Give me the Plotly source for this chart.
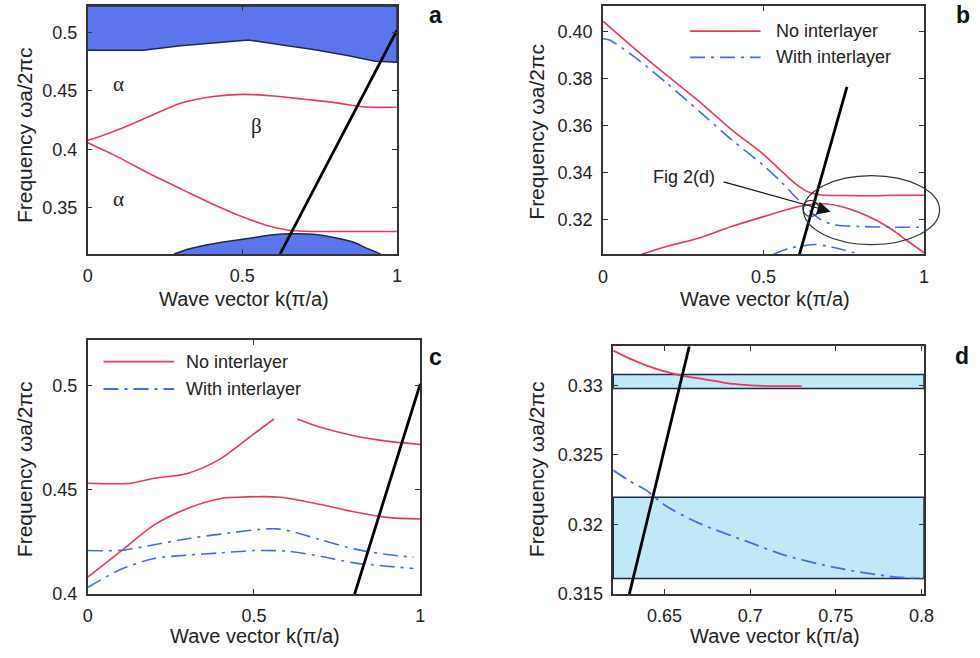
import plotly.graph_objects as go

FONT = "Arial, Liberation Sans, sans-serif"
RED = "#e8395a"
BLUE = "#3f6ee6"
BAND = "#5b75ec"
LIGHT = "#bfe9f7"
DARK = "#1f2a44"

# ---------------- Panel a ----------------
a_upper_band_k = [0, 0.18, 0.30, 0.41, 0.52, 0.64, 0.73, 0.84, 0.93, 1.0]
a_upper_band_w = [0.485, 0.485, 0.4887, 0.4915, 0.4937, 0.489, 0.4855, 0.4805, 0.4755, 0.4746]
a_lower_band_k = [0.279, 0.33, 0.42, 0.53, 0.60, 0.66, 0.73, 0.80, 0.86, 0.90, 0.948]
a_lower_band_w = [0.310, 0.3145, 0.3195, 0.3238, 0.3265, 0.3275, 0.3270, 0.3240, 0.3201, 0.3153, 0.310]
a_red1_k = [0, 0.03, 0.1, 0.2, 0.3, 0.4, 0.5, 0.6, 0.7, 0.8, 0.88, 0.92, 1.0]
a_red1_w = [0.4075, 0.410, 0.4169, 0.4282, 0.4395, 0.4451, 0.4471, 0.4457, 0.4429, 0.4400, 0.4366, 0.4360, 0.4360]
a_red2_k = [0, 0.1, 0.2, 0.3, 0.4, 0.5, 0.58, 0.65, 0.7, 1.0]
a_red2_w = [0.4055, 0.3930, 0.3789, 0.3662, 0.3535, 0.3420, 0.3345, 0.3305, 0.3296, 0.3294]
a_light_k = [0.622, 1.0]
a_light_w = [0.31, 0.502]
a_xrange = [0, 1]
a_yrange = [0.31, 0.523]

# ---------------- Panel b ----------------
b_red1_k = [0, 0.1, 0.2, 0.3, 0.4, 0.5, 0.56, 0.6, 0.64, 0.68, 0.75, 0.85, 0.9, 1.0]
b_red1_w = [0.4045, 0.3926, 0.3813, 0.3702, 0.3582, 0.3477, 0.3400, 0.3351, 0.3316, 0.3303, 0.3301, 0.3300, 0.3302, 0.3302]
b_red2_k = [0.12, 0.2, 0.3, 0.4, 0.5, 0.6, 0.66, 0.7, 0.75, 0.8, 0.85, 0.9, 0.95, 1.0]
b_red2_w = [0.305, 0.3085, 0.3120, 0.3169, 0.3211, 0.3251, 0.3265, 0.3265, 0.3251, 0.3228, 0.3197, 0.3156, 0.3106, 0.3057]
b_blue1_k = [0, 0.02, 0.1, 0.2, 0.3, 0.4, 0.5, 0.55, 0.6, 0.64, 0.68, 0.72, 0.8, 0.9, 1.0]
b_blue1_w = [0.3970, 0.3965, 0.3890, 0.3779, 0.3660, 0.3540, 0.3429, 0.3366, 0.3295, 0.3240, 0.3197, 0.3176, 0.3169, 0.3166, 0.3166]
b_blue2_k = [0.53, 0.58, 0.63, 0.66, 0.7, 0.75, 0.8]
b_blue2_w = [0.305, 0.3076, 0.3088, 0.3092, 0.3085, 0.3069, 0.305]
b_light_k = [0.612, 0.76]
b_light_w = [0.305, 0.3765]
b_xrange = [0, 1]
b_yrange = [0.305, 0.411]
b_ellipse_center = (0.8365, 0.3239)
b_ellipse_half = (0.212, 0.0147)
b_circle_center = (0.647, 0.3246)
b_arrow_tail = (0.371, 0.3361)
b_arrow_head = (0.709, 0.3232)
b_label_pos = (0.2537, 0.3379)

# ---------------- Panel c ----------------
c_red1_k = [0, 0.13, 0.2, 0.3, 0.4, 0.5, 0.56, None, 0.63, 0.7, 0.8, 0.9, 1.0]
c_red1_w = [0.4532, 0.4532, 0.4556, 0.4579, 0.4650, 0.4769, 0.4840, None, 0.4840, 0.4800, 0.4760, 0.4734, 0.4718]
c_red2_k = [0, 0.1, 0.2, 0.3, 0.4, 0.45, 0.58, 0.7, 0.8, 0.9, 1.0]
c_red2_w = [0.4082, 0.4206, 0.4332, 0.4411, 0.4459, 0.4465, 0.4465, 0.4430, 0.4395, 0.4368, 0.4360]
c_blue1_k = [0, 0.1, 0.2, 0.3, 0.4, 0.57, 0.7, 0.8, 0.9, 0.98]
c_blue1_w = [0.4209, 0.4210, 0.4237, 0.4266, 0.4288, 0.4313, 0.4261, 0.4217, 0.4190, 0.4177]
c_blue2_k = [0, 0.1, 0.2, 0.3, 0.4, 0.5, 0.6, 0.7, 0.8, 0.9, 0.98]
c_blue2_w = [0.4032, 0.4119, 0.4171, 0.4187, 0.4198, 0.4209, 0.4206, 0.4182, 0.4150, 0.4134, 0.4123]
c_light_k = [0.8025, 1.0]
c_light_w = [0.4, 0.5008]
c_xrange = [0, 1]
c_yrange = [0.4, 0.522]

# ---------------- Panel d ----------------
d_red_k = [0.62, 0.63, 0.64, 0.65, 0.66, 0.67, 0.68, 0.69, 0.70, 0.71, 0.73]
d_red_w = [0.3325, 0.3319, 0.3314, 0.3310, 0.3307, 0.3305, 0.3303, 0.3301, 0.3300, 0.32995, 0.32995]
d_blue_k = [0.62, 0.63, 0.64, 0.65, 0.67, 0.70, 0.72, 0.75, 0.78, 0.80]
d_blue_w = [0.3239, 0.3231, 0.3224, 0.3214, 0.3201, 0.3187, 0.3178, 0.3169, 0.3163, 0.3161]
d_bands = [(0.32977, 0.33078), (0.31612, 0.32196)]
d_light_k = [0.6294, 0.6644]
d_light_w = [0.315, 0.3328]
d_xrange = [0.62, 0.8015]
d_yrange = [0.315, 0.3328]

dashdot = "15px,6px,3px,6px"

fig = go.Figure()

def line(x, y, xa, ya, color, width=1.6, dash="solid", smooth=True):
    fig.add_trace(go.Scatter(x=x, y=y, xaxis=xa, yaxis=ya, mode="lines",
                             line=dict(color=color, width=width, dash=dash,
                                       shape="spline" if smooth else "linear", smoothing=0.8),
                             showlegend=False, hoverinfo="skip", connectgaps=False))

# Panel a bands
fig.add_trace(go.Scatter(x=a_upper_band_k + [a_xrange[1], a_xrange[0]],
                         y=a_upper_band_w + [a_yrange[1], a_yrange[1]],
                         xaxis="x", yaxis="y", mode="lines", fill="toself", fillcolor=BAND,
                         line=dict(color=DARK, width=1.5), showlegend=False, hoverinfo="skip"))
fig.add_trace(go.Scatter(x=a_lower_band_k, y=a_lower_band_w,
                         xaxis="x", yaxis="y", mode="lines", fill="toself", fillcolor=BAND,
                         line=dict(color=DARK, width=1.5, shape="spline", smoothing=0.8),
                         showlegend=False, hoverinfo="skip"))
line(a_red1_k, a_red1_w, "x", "y", RED)
line(a_red2_k, a_red2_w, "x", "y", RED)
line(a_light_k, a_light_w, "x", "y", "black", 2.8, smooth=False)

# Panel b
line(b_red1_k, b_red1_w, "x2", "y2", RED)
line(b_red2_k, b_red2_w, "x2", "y2", RED)
line(b_blue1_k, b_blue1_w, "x2", "y2", BLUE, 1.6, dashdot)
line(b_blue2_k, b_blue2_w, "x2", "y2", BLUE, 1.6, dashdot)
line(b_light_k, b_light_w, "x2", "y2", "black", 2.8, smooth=False)

# Panel c
line(c_red1_k, c_red1_w, "x3", "y3", RED)
line(c_red2_k, c_red2_w, "x3", "y3", RED)
line(c_blue1_k, c_blue1_w, "x3", "y3", BLUE, 1.6, dashdot)
line(c_blue2_k, c_blue2_w, "x3", "y3", BLUE, 1.6, dashdot)
line(c_light_k, c_light_w, "x3", "y3", "black", 2.8, smooth=False)

# Panel d
shapes = []
for lo, hi in d_bands:
    shapes.append(dict(type="rect", xref="x4 domain", yref="y4", x0=0, x1=1, y0=lo, y1=hi,
                       fillcolor=LIGHT, line=dict(color=DARK, width=1.5), layer="below"))
line(d_red_k, d_red_w, "x4", "y4", RED, 1.8)
line(d_blue_k, d_blue_w, "x4", "y4", BLUE, 1.8, dashdot)
line(d_light_k, d_light_w, "x4", "y4", "black", 2.8, smooth=False)

def dom(v, rng):
    return (v - rng[0]) / (rng[1] - rng[0])

# Ellipse in b (allowed to run past the frame)
cx, cy = b_ellipse_center
hx, hy = b_ellipse_half
shapes.append(dict(type="circle", xref="x2 domain", yref="y2 domain",
                   x0=dom(cx - hx, b_xrange), x1=dom(cx + hx, b_xrange),
                   y0=dom(cy - hy, b_yrange), y1=dom(cy + hy, b_yrange),
                   line=dict(color="#2a3a30", width=1.2)))
# small circle around crossing
shapes.append(dict(type="circle", xref="x2", yref="y2", xsizemode="pixel", ysizemode="pixel",
                   xanchor=b_circle_center[0], yanchor=b_circle_center[1],
                   x0=-8, x1=8, y0=-8, y1=8, line=dict(color="#2a3a30", width=1.2)))

# manual legends (b and c)
legend_specs = [
    (695.7, 767.3, 781, 31.7, RED, "solid", "No interlayer"),
    (695.7, 767.3, 781, 58.3, BLUE, dashdot, "With interlayer"),
    (100, 171.7, 181.7, 367.3, RED, "solid", "No interlayer"),
    (100, 171.7, 181.7, 395, BLUE, dashdot, "With interlayer"),
]
W, H = 980, 658
annotations = []
for x0, x1, tx, ty, col, dsh, txt in legend_specs:
    shapes.append(dict(type="line", xref="paper", yref="paper", x0=x0 / W, x1=x1 / W,
                       y0=1 - ty / H, y1=1 - ty / H, line=dict(color=col, width=1.8, dash=dsh)))
    annotations.append(dict(text=txt, xref="paper", yref="paper", x=tx / W, y=1 - ty / H,
                            xanchor="left", yanchor="middle", showarrow=False,
                            font=dict(size=18, color="#222", family=FONT)))

# Arrow + label in b
annotations.append(dict(x=b_arrow_head[0], y=b_arrow_head[1], ax=b_arrow_tail[0], ay=b_arrow_tail[1],
                        xref="x2", yref="y2", axref="x2", ayref="y2", text="", showarrow=True,
                        arrowhead=2, arrowsize=2.2, arrowwidth=1.2, arrowcolor="#111"))
annotations.append(dict(x=b_label_pos[0], y=b_label_pos[1], xref="x2", yref="y2", text="Fig 2(d)",
                        showarrow=False, font=dict(size=18, color="#222", family=FONT)))

# Greek labels in a
for t, x, y in [("α", 0.10, 0.456), ("β", 0.545, 0.42), ("α", 0.10, 0.357)]:
    annotations.append(dict(x=x, y=y, xref="x", yref="y", text=t, showarrow=False,
                            font=dict(size=21, color="#222", family="Times New Roman, Liberation Serif, serif")))

# Panel letters
for t, px, py in [("a", 437, 15), ("b", 973, 15), ("c", 437, 363), ("d", 972, 362)]:
    annotations.append(dict(x=px / W, y=1 - py / H, xref="paper", yref="paper", text="<b>%s</b>" % t,
                            showarrow=False, xanchor="center", yanchor="middle",
                            font=dict(size=23, color="#111", family=FONT)))

# Axis titles
ytitle = "Frequency ωa/2πc"
xtitle = "Wave vector k(π/a)"
for px, py in [(20, 137.5), (540, 134), (20, 476.7), (540, 476.7)]:
    annotations.append(dict(x=px / W, y=1 - py / H, xref="paper", yref="paper", text=ytitle,
                            textangle=-90, showarrow=False, xanchor="center", yanchor="middle",
                            font=dict(size=21, color="#222", family=FONT)))
for px, py in [(243, 316), (771.7, 316), (254, 658), (782.3, 658)]:
    annotations.append(dict(x=px / W, y=1 - py / H, xref="paper", yref="paper", text=xtitle,
                            showarrow=False, xanchor="center", yanchor="bottom", borderpad=0,
                            font=dict(size=20, color="#222", family=FONT)))

def axis(domain, rng, tickvals, ticktext, anchor, standoff=5):
    return dict(domain=domain, range=rng, tickvals=tickvals, ticktext=ticktext, anchor=anchor,
                showline=True, linecolor="#333", linewidth=1.5, mirror="ticks",
                ticks="inside", ticklen=5, tickwidth=1, tickcolor="#333",
                showgrid=False, zeroline=False, ticklabelstandoff=standoff,
                tickfont=dict(size=18, color="#222", family=FONT))

fig.update_layout(
    width=W, height=H, margin=dict(l=0, r=0, t=0, b=0),
    paper_bgcolor="white", plot_bgcolor="white",
    xaxis=axis([84 / W, 398 / W], a_xrange, [0, 0.5, 1], ["0", "0.5", "1"], "y", 5),
    yaxis=axis([1 - 258 / H, 1 - 6 / H], a_yrange, [0.35, 0.4, 0.45, 0.5], ["0.35", "0.4", "0.45", "0.5"], "x"),
    xaxis2=axis([607.3 / W, 933.3 / W], b_xrange, [0, 0.5, 1], ["0", "0.5", "1"], "y2", 5),
    yaxis2=axis([1 - 258.3 / H, 1 - 6 / H], b_yrange, [0.32, 0.34, 0.36, 0.38, 0.40],
                ["0.32", "0.34", "0.36", "0.38", "0.40"], "x2"),
    xaxis3=axis([84 / W, 421.7 / W], c_xrange, [0, 0.5, 1], ["0", "0.5", "1"], "y3", 5),
    yaxis3=axis([1 - 603.3 / H, 1 - 345 / H], c_yrange, [0.4, 0.45, 0.5], ["0.4", "0.45", "0.5"], "x3"),
    xaxis4=axis([617.7 / W, 933.3 / W], d_xrange, [0.65, 0.7, 0.75, 0.8], ["0.65", "0.7", "0.75", "0.8"], "y4", 5),
    yaxis4=axis([1 - 603.3 / H, 1 - 351.7 / H], d_yrange, [0.315, 0.32, 0.325, 0.33],
                ["0.315", "0.32", "0.325", "0.33"], "x4"),
    shapes=shapes, annotations=annotations,
)

fig.write_html("out.html")
